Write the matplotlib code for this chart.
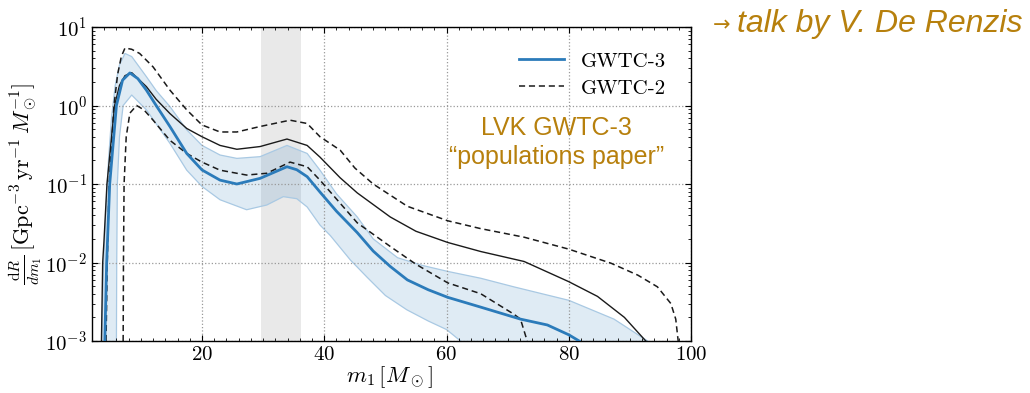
import matplotlib
matplotlib.use("Agg")
import matplotlib.pyplot as plt
import numpy as np
from matplotlib.ticker import MultipleLocator, LogLocator, NullFormatter

plt.rcParams['mathtext.fontset'] = 'cm'
plt.rcParams['font.family'] = 'serif'
plt.rcParams['font.serif'] = ['cmr10']
plt.rcParams['axes.formatter.use_mathtext'] = True

# GWTC-3 median and 90% band
g3_x = [4.1, 4.4, 4.9, 6.0, 7.0, 8.2, 9.5, 10.9, 12.5, 14.75, 17.5, 20, 22.95, 25.7,
        29.5, 33.9, 35.5, 37.2, 39.3, 42, 45.4, 48, 50.8, 53.6, 57, 60.2, 65.6,
        72.1, 76.5, 80, 81.7]
g3_y = [0.001, 0.01, 0.1, 1.0, 2.1, 2.6, 2.2, 1.57, 1.0, 0.54, 0.245, 0.151, 0.112, 0.1,
        0.118, 0.166, 0.152, 0.124, 0.079, 0.045, 0.024, 0.014, 0.0089, 0.006, 0.0045,
        0.0036, 0.0027, 0.0019, 0.0016, 0.0012, 0.001]

g3_hi_x = [3.6, 3.9, 4.3, 4.7, 5.2, 5.8, 6.5, 7.4, 8.5, 10.9, 12.5, 14.75, 17.5, 20,
           22.95, 25.7, 29.5, 33.9, 37.2, 39.3, 42, 45.4, 48, 52, 56, 60.2, 65.6, 71,
           80, 87.4, 92.9]
g3_hi_y = [0.001, 0.01, 0.05, 0.2, 0.7, 1.8, 3.3, 4.6, 4.2, 2.33, 1.55, 0.97, 0.49, 0.31,
           0.234, 0.212, 0.223, 0.31, 0.245, 0.15, 0.075, 0.038, 0.02, 0.0115, 0.0092,
           0.0077, 0.0063, 0.0049, 0.0033, 0.0019, 0.001]

g3_lo_x = [6.0, 6.05, 6.15, 6.5, 7.1, 8.5, 10.9, 14.75, 17.5, 20, 22.95, 27.3, 30.6,
           33.3, 35.5, 37.2, 39.3, 41, 44.3, 47, 50, 53.5, 57, 60, 62.3]
g3_lo_y = [0.001, 0.01, 0.1, 0.4, 1.0, 1.36, 0.88, 0.33, 0.15, 0.093, 0.063, 0.047, 0.054,
           0.069, 0.065, 0.051, 0.03, 0.022, 0.0107, 0.0065, 0.0038, 0.0025, 0.0018,
           0.0014, 0.001]

# GWTC-2 median (solid) and 90% bounds (dashed)
g2_x = [3.55, 3.75, 3.95, 4.1, 4.45, 5.7, 6.5, 7.4, 8.5, 10.9, 12.5, 14.75, 17.5, 20,
        22.95, 25.7, 29.5, 33.9, 37.2, 39.3, 42.6, 45.4, 50.8, 55, 60.2, 65.6, 72.7,
        80, 84.7, 89.1, 92.6]
g2_y = [0.001, 0.01, 0.018, 0.03, 0.1, 1.0, 1.8, 2.4, 2.62, 1.74, 1.2, 0.79, 0.51, 0.40,
        0.31, 0.277, 0.30, 0.374, 0.31, 0.22, 0.12, 0.077, 0.038, 0.025, 0.018, 0.0138,
        0.0103, 0.0057, 0.0037, 0.002, 0.001]

g2_hi_x = [4.3, 4.5, 4.8, 5.6, 6.2, 6.8, 7.4, 8.5, 9.8, 12.0, 14.75, 17.5, 20, 22.95,
           25.7, 29.5, 34.4, 37.2, 39.3, 42.6, 45, 48, 53.6, 60.2, 65.6, 72.7, 80, 86.9,
           91.3, 94.5, 96.7, 97.5, 97.9]
g2_hi_y = [0.001, 0.01, 0.1, 1.0, 2.5, 4.2, 5.4, 5.2, 4.6, 3.1, 1.57, 0.88, 0.565, 0.46,
           0.46, 0.54, 0.65, 0.59, 0.4, 0.27, 0.16, 0.1, 0.052, 0.034, 0.027, 0.021,
           0.0148, 0.0098, 0.0069, 0.0049, 0.003, 0.0019, 0.001]

g2_lo_x = [7.1, 7.15, 7.25, 7.6, 8.2, 9.3, 10.5, 12.0, 14.75, 17.5, 20, 22.95, 27.3,
           30.6, 34.4, 37.2, 39.3, 45.4, 50.8, 55, 60.2, 65.6, 71, 72.1, 73.2]
g2_lo_y = [0.001, 0.01, 0.1, 0.4, 0.8, 1.0, 0.88, 0.65, 0.36, 0.245, 0.19, 0.15, 0.13,
           0.137, 0.19, 0.166, 0.112, 0.032, 0.016, 0.0095, 0.0055, 0.004, 0.0022,
           0.0019, 0.001]

peak_lo, peak_hi = 29.7, 36.2

gold = '#b7800d'
blue = '#2b7bba'

fig = plt.figure(figsize=(10.3, 3.93), dpi=100)
ax = fig.add_axes([0.0893, 0.1323, 0.5816, 0.799])

ax.axvspan(peak_lo, peak_hi, color='#e9e9e9', lw=0, zorder=0)

band_x = np.concatenate([g3_hi_x, g3_lo_x[::-1]])
band_y = np.concatenate([g3_hi_y, g3_lo_y[::-1]])
ax.fill(band_x, band_y, facecolor=blue, alpha=0.15, edgecolor='none', zorder=1)
ax.plot(g3_hi_x, g3_hi_y, color='#a9c9e3', lw=0.9, zorder=1.5)
ax.plot(g3_lo_x, g3_lo_y, color='#a9c9e3', lw=0.9, zorder=1.5)

ax.plot(g2_x, g2_y, color='#1a1a1a', lw=1.0, zorder=2)
ax.plot(g2_hi_x, g2_hi_y, color='#1a1a1a', lw=1.1, ls=(0, (4, 2.5)), zorder=2)
ax.plot(g2_lo_x, g2_lo_y, color='#1a1a1a', lw=1.1, ls=(0, (4, 2.5)), zorder=2,
        label='GWTC-2')
ax.plot(g3_x, g3_y, color=blue, lw=2.0, zorder=3, label='GWTC-3')

ax.set_yscale('log')
ax.set_xlim(2, 100)
ax.set_ylim(1e-3, 10)
ax.set_xticks([20, 40, 60, 80, 100])
ax.xaxis.set_minor_locator(MultipleLocator(2))
ax.yaxis.set_minor_locator(LogLocator(base=10, subs=np.arange(2, 10), numticks=20))
ax.yaxis.set_minor_formatter(NullFormatter())
ax.tick_params(which='both', direction='in', top=True, right=True, labelsize=15)
ax.tick_params(which='major', length=4)
ax.tick_params(which='minor', length=2)
ax.grid(True, which='major', ls=':', color='#999999', lw=0.9)
for s in ax.spines.values():
    s.set_linewidth(1.0)

ax.set_xlabel(r'$m_1\,[M_\odot]$', fontsize=16.5)
ax.xaxis.set_label_coords(0.497, -0.075)
ax.set_ylabel(r'$\frac{\mathrm{d}R}{dm_1}\,[\mathrm{Gpc}^{-3}\,\mathrm{yr}^{-1}\,M_\odot^{-1}]$',
              fontsize=16)
ax.yaxis.set_label_coords(-0.08, 0.5)

h, l = ax.get_legend_handles_labels()
ax.legend(h[::-1], l[::-1], loc='upper right', bbox_to_anchor=(0.99, 0.98),
          frameon=False, fontsize=15, handlelength=2.2, labelspacing=0.4,
          handletextpad=0.8)

sans = ['Liberation Sans', 'DejaVu Sans']
ax.text(0.775, 0.678, 'LVK GWTC-3', transform=ax.transAxes, ha='center', va='center',
        color=gold, fontsize=18, family=sans)
ax.text(0.775, 0.586, '\u201cpopulations paper\u201d', transform=ax.transAxes,
        ha='center', va='center', color=gold, fontsize=18, family=sans)

fig.text(0.692, 0.935, '\u2192', color=gold, fontsize=15, ha='left', va='center',
         family=['DejaVu Sans'])
fig.text(0.716, 0.938, 'talk by V. De Renzis', color=gold, fontsize=23, ha='left',
         va='center', style='italic', family=sans)

fig.savefig('out.png', dpi=100)
